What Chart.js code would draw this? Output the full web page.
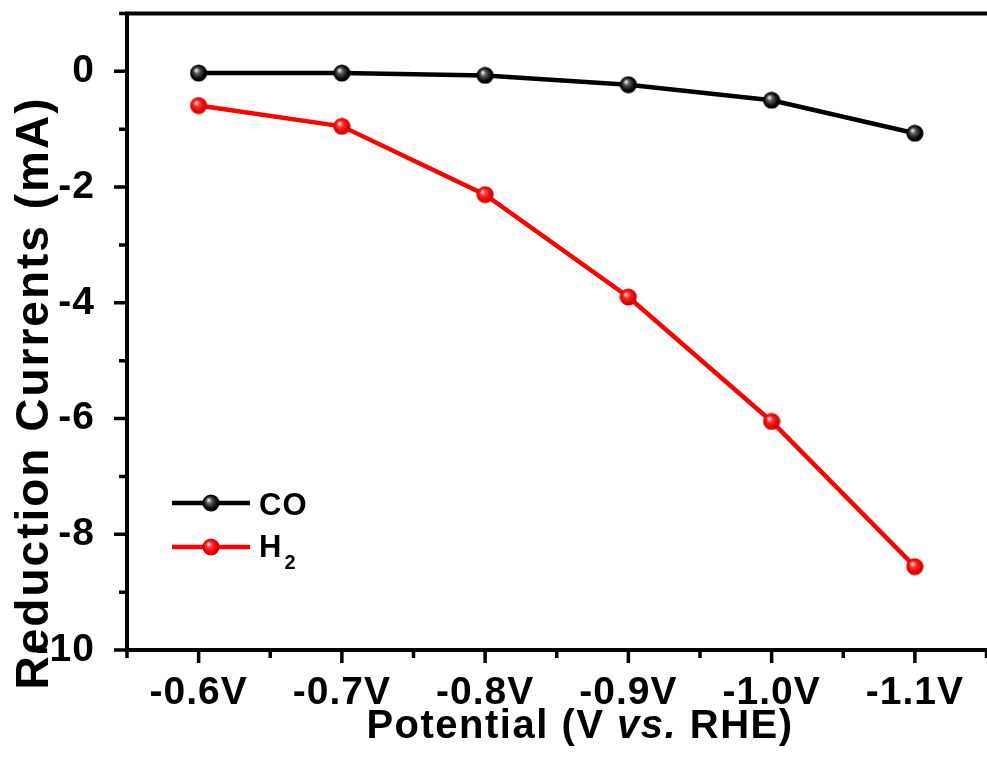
<!DOCTYPE html>
<html>
<head>
<meta charset="utf-8">
<script src="https://cdn.jsdelivr.net/npm/chart.js@4.4.1/dist/chart.umd.min.js"></script>
<style>
  html, body { margin: 0; padding: 0; background: #fff; overflow: hidden; }
  #wrap { width: 1000px; height: 767px; position: relative; }
</style>
</head>
<body>
<div id="wrap"><canvas id="myChart"></canvas></div>
<script>
// data
const potentials = ['-0.6V', '-0.7V', '-0.8V', '-0.9V', '-1.0V', '-1.1V'];
const coCurrent = [-0.03, -0.03, -0.07, -0.23, -0.50, -1.07];
const h2Current = [-0.59, -0.95, -2.13, -3.90, -6.05, -8.56];
const yTicks = [-10, -8, -6, -4, -2, 0];
const yMinorTicks = [-9, -7, -5, -3, -1, 1];

const FONT = '"Liberation Sans", Arial, sans-serif';

// shaded ball markers like the original plot
function makeBall(light, mid, dark) {
    const c = document.createElement('canvas');
    c.width = 18;
    c.height = 18;
    const g = c.getContext('2d');
    const grad = g.createRadialGradient(6.5, 6, 0.5, 9, 9, 9);
    grad.addColorStop(0, light);
    grad.addColorStop(0.3, mid);
    grad.addColorStop(0.75, dark);
    grad.addColorStop(1, dark);
    g.fillStyle = grad;
    g.beginPath();
    g.arc(9, 9, 8.6, 0, Math.PI * 2);
    g.fill();
    return c;
}
const blackBall = makeBall('#e8e8e8', '#555', '#000');
const redBall = makeBall('#ffd8d8', '#ff3030', '#e00000');

// frame, minor ticks, titles and legend
const decorPlugin = {
    id: 'decor',
    beforeDraw(chart) {
        chart.ctx.letterSpacing = '1px';
    },
    afterDraw(chart) {
        const ctx = chart.ctx;
        const area = chart.chartArea;
        const xs = chart.scales.x;
        const ys = chart.scales.y;
        ctx.save();
        ctx.letterSpacing = '0px';
        ctx.strokeStyle = '#000';
        ctx.lineWidth = 4;
        ctx.lineCap = 'butt';
        ctx.beginPath();
        ctx.moveTo(area.left, area.top);
        ctx.lineTo(area.left, area.bottom + 2);
        ctx.moveTo(area.left - 2, area.top);
        ctx.lineTo(1000, area.top);
        ctx.moveTo(area.left - 2, area.bottom);
        ctx.lineTo(1000, area.bottom);
        ctx.stroke();

        ctx.lineWidth = 3.5;
        ctx.beginPath();
        yTicks.forEach(v => {
            const y = ys.getPixelForValue(v);
            ctx.moveTo(area.left - 13, y);
            ctx.lineTo(area.left, y);
        });
        yMinorTicks.forEach(v => {
            const y = ys.getPixelForValue(v);
            ctx.moveTo(area.left - 8, y);
            ctx.lineTo(area.left, y);
        });
        potentials.forEach((p, i) => {
            const x = xs.getPixelForValue(i);
            ctx.moveTo(x, area.bottom);
            ctx.lineTo(x, area.bottom + 13);
        });
        for (let i = -0.5; i < potentials.length; i += 1) {
            const x = xs.getPixelForValue(i);
            ctx.moveTo(x, area.bottom);
            ctx.lineTo(x, area.bottom + 8);
        }
        ctx.stroke();

        ctx.fillStyle = '#000';
        ctx.textBaseline = 'alphabetic';

        // y title
        ctx.save();
        ctx.font = 'bold 46px ' + FONT;
        ctx.letterSpacing = '2px';
        ctx.textAlign = 'center';
        ctx.translate(48, 393);
        ctx.rotate(-Math.PI / 2);
        ctx.fillText('Reduction Currents (mA)', 0, 0);
        ctx.restore();

        // x title with italic "vs."
        const parts = [
            ['Potential (V ', 'bold 40px '],
            ['vs.', 'italic bold 40px '],
            [' RHE)', 'bold 40px ']
        ];
        ctx.letterSpacing = '1.5px';
        ctx.textAlign = 'left';
        let total = 0;
        parts.forEach(p => {
            ctx.font = p[1] + FONT;
            total += ctx.measureText(p[0]).width;
        });
        let tx = 580 - total / 2;
        parts.forEach(p => {
            ctx.font = p[1] + FONT;
            ctx.fillText(p[0], tx, 738);
            tx += ctx.measureText(p[0]).width;
        });

        // legend
        ctx.letterSpacing = '1px';
        const rows = [
            { ds: chart.data.datasets[0], y: 503, ball: blackBall },
            { ds: chart.data.datasets[1], y: 547, ball: redBall }
        ];
        rows.forEach(r => {
            ctx.strokeStyle = r.ds.borderColor;
            ctx.lineWidth = 4.5;
            ctx.beginPath();
            ctx.moveTo(172, r.y);
            ctx.lineTo(250, r.y);
            ctx.stroke();
            ctx.drawImage(r.ball, 211 - 9, r.y - 9);
        });
        ctx.fillStyle = '#000';
        ctx.font = 'bold 31px ' + FONT;
        ctx.fillText('CO', 259, 515);
        ctx.fillText('H', 259, 557);
        const hw = ctx.measureText('H').width;
        ctx.font = 'bold 20px ' + FONT;
        ctx.fillText('2', 259 + hw + 2, 569);
        ctx.restore();
        ctx.letterSpacing = '0px';
    }
};

const tickFont = { family: FONT, size: 39, weight: 'bold' };

const ctx = document.getElementById('myChart').getContext('2d');
const myChart = new Chart(ctx, {
    type: 'line',
    data: {
        labels: potentials,
        datasets: [
            {
                label: 'CO',
                data: coCurrent,
                borderColor: '#000000',
                backgroundColor: '#000000',
                borderWidth: 4.5,
                tension: 0,
                pointStyle: blackBall,
                pointRadius: 9
            },
            {
                label: 'H2',
                data: h2Current,
                borderColor: '#ff0000',
                backgroundColor: '#ff0000',
                borderWidth: 4.5,
                tension: 0,
                pointStyle: redBall,
                pointRadius: 9
            }
        ]
    },
    options: {
        responsive: true,
        maintainAspectRatio: false,
        animation: false,
        devicePixelRatio: 1,
        layout: { padding: { top: 12.5, right: 6, left: 0, bottom: 0 } },
        scales: {
            x: {
                type: 'category',
                offset: true,
                grid: { display: false },
                border: { display: false },
                ticks: { font: tickFont, color: '#000', padding: 12, maxRotation: 0, autoSkip: false },
                afterFit(scale) {
                    scale.height = 117;
                    scale.paddingLeft = 0;
                    scale.paddingRight = 0;
                }
            },
            y: {
                min: -10,
                max: 1,
                grid: { display: false },
                border: { display: false },
                afterBuildTicks(scale) {
                    scale.ticks = yTicks.map(v => ({ value: v }));
                },
                ticks: { font: tickFont, color: '#000', padding: 24 },
                afterFit(scale) {
                    scale.width = 127;
                    scale.paddingTop = 0;
                    scale.paddingBottom = 0;
                }
            }
        },
        plugins: {
            legend: { display: false },
            tooltip: { enabled: false },
            title: { display: false }
        }
    },
    plugins: [decorPlugin]
});
</script>
</body>
</html>
